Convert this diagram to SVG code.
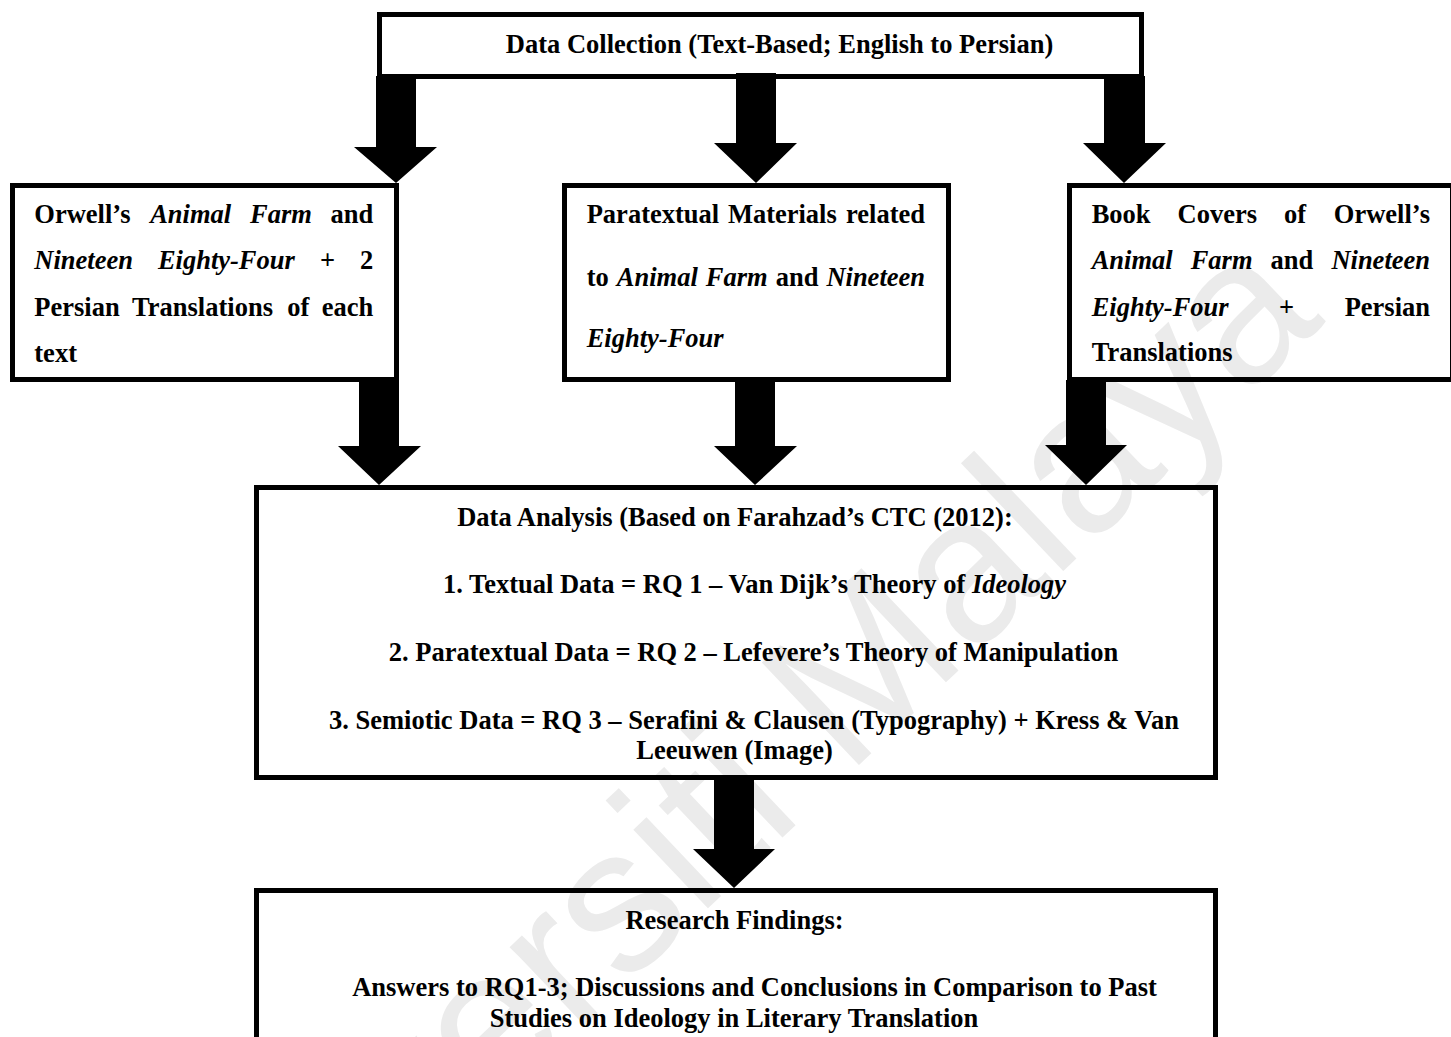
<svg xmlns="http://www.w3.org/2000/svg" width="1451" height="1037" viewBox="0 0 1451 1037">
<style>
.box{fill:none;stroke:#000;stroke-width:5}
.arr{fill:#000;stroke:none}
.t{font-family:"Liberation Serif","Times New Roman",serif;font-weight:bold;font-size:26.5px;fill:#000}
.it{font-style:italic}
.e{text-anchor:end}
.m{text-anchor:middle}
.wm{font-family:"Liberation Sans",Arial,sans-serif;font-size:205px;fill:#ebebeb}
</style>
<rect x="0" y="0" width="1451" height="1037" fill="#fff"/>
<text class="wm" transform="translate(194,1396) rotate(-43.5)">Universiti Malaya</text>

<g id="connectors">
<polygon class="arr" points="376,76 416,76 416,147 437,147 396,183 354,147 376,147"/>
<polygon class="arr" points="736,73 776,73 776,143 797,143 756,183 714,143 736,143"/>
<polygon class="arr" points="1104,76 1145,76 1145,143 1166,143 1124,183 1083,143 1104,143"/>
<polygon class="arr" points="359,380 399,380 399,446 421,446 379,485 338,446 359,446"/>
<polygon class="arr" points="735,380 775,380 775,446 797,446 755,485 714,446 735,446"/>
<polygon class="arr" points="1066,380 1106,380 1106,445 1127,445 1086,485 1045,445 1066,445"/>
<polygon class="arr" points="714,778 754,778 754,849 775,849 734,888 693,849 714,849"/>
</g>

<g id="node-collection">
<rect class="box" x="379.5" y="14.5" width="762" height="62"/>
<text class="t m" x="779.5" y="53">Data Collection (Text-Based; English to Persian)</text>
</g>

<g id="node-texts">
<rect class="box" x="12.5" y="185.5" width="384" height="194"/>
<text class="t" y="223"><tspan x="34.3">Orwell’s</tspan><tspan class="it" x="150.2">Animal</tspan><tspan class="it" x="250">Farm</tspan></text>
<text class="t e" x="373.3" y="223">and</text>
<text class="t" y="269"><tspan class="it" x="34.3">Nineteen</tspan><tspan class="it" x="157.9">Eighty-Four</tspan><tspan x="319.9">+</tspan></text>
<text class="t e" x="373.3" y="269">2</text>
<text class="t" y="316"><tspan x="34.3">Persian</tspan><tspan x="132.1">Translations</tspan><tspan x="287.3">of</tspan></text>
<text class="t e" x="373.3" y="316">each</text>
<text class="t" x="34.3" y="362">text</text>
</g>

<g id="node-paratext">
<rect class="box" x="564.5" y="185.5" width="384" height="194"/>
<text class="t" y="223"><tspan x="586.7">Paratextual</tspan><tspan x="727.9">Materials</tspan></text>
<text class="t e" x="925" y="223">related</text>
<text class="t" y="286"><tspan x="586.7">to</tspan><tspan class="it" x="616.8">Animal</tspan><tspan class="it" x="705.8">Farm</tspan><tspan x="775.7">and</tspan></text>
<text class="t it e" x="925" y="286">Nineteen</text>
<text class="t it" x="586.7" y="347">Eighty-Four</text>
</g>

<g id="node-covers">
<rect class="box" x="1069.5" y="185.5" width="383" height="194"/>
<text class="t" y="223"><tspan x="1091.7">Book</tspan><tspan x="1177.5">Covers</tspan><tspan x="1283.9">of</tspan></text>
<text class="t e" x="1430" y="223">Orwell’s</text>
<text class="t" y="269"><tspan class="it" x="1091.7">Animal</tspan><tspan class="it" x="1190.7">Farm</tspan><tspan x="1270.6">and</tspan></text>
<text class="t it e" x="1430" y="269">Nineteen</text>
<text class="t" y="316"><tspan class="it" x="1091.7">Eighty-Four</tspan><tspan x="1279.1">+</tspan></text>
<text class="t e" x="1430" y="316">Persian</text>
<text class="t" x="1091.7" y="361">Translations</text>
</g>

<g id="node-analysis">
<rect class="box" x="256.5" y="487.5" width="959" height="290"/>
<text class="t m" x="735" y="526">Data Analysis (Based on Farahzad’s CTC (2012):</text>
<text class="t m" x="754.5" y="593">1. Textual Data = RQ 1 – Van Dijk’s Theory of <tspan class="it">Ideology</tspan></text>
<text class="t m" x="753.5" y="661">2. Paratextual Data = RQ 2 – Lefevere’s Theory of Manipulation</text>
<text class="t m" x="754" y="729">3. Semiotic Data = RQ 3 – Serafini &amp; Clausen (Typography) + Kress &amp; Van</text>
<text class="t m" x="734.5" y="759">Leeuwen (Image)</text>
</g>

<g id="node-findings">
<rect class="box" x="256.5" y="890.5" width="959" height="200"/>
<text class="t m" x="734.5" y="929">Research Findings:</text>
<text class="t m" x="754.5" y="996">Answers to RQ1-3; Discussions and Conclusions in Comparison to Past</text>
<text class="t m" x="734" y="1027">Studies on Ideology in Literary Translation</text>
</g>
</svg>
